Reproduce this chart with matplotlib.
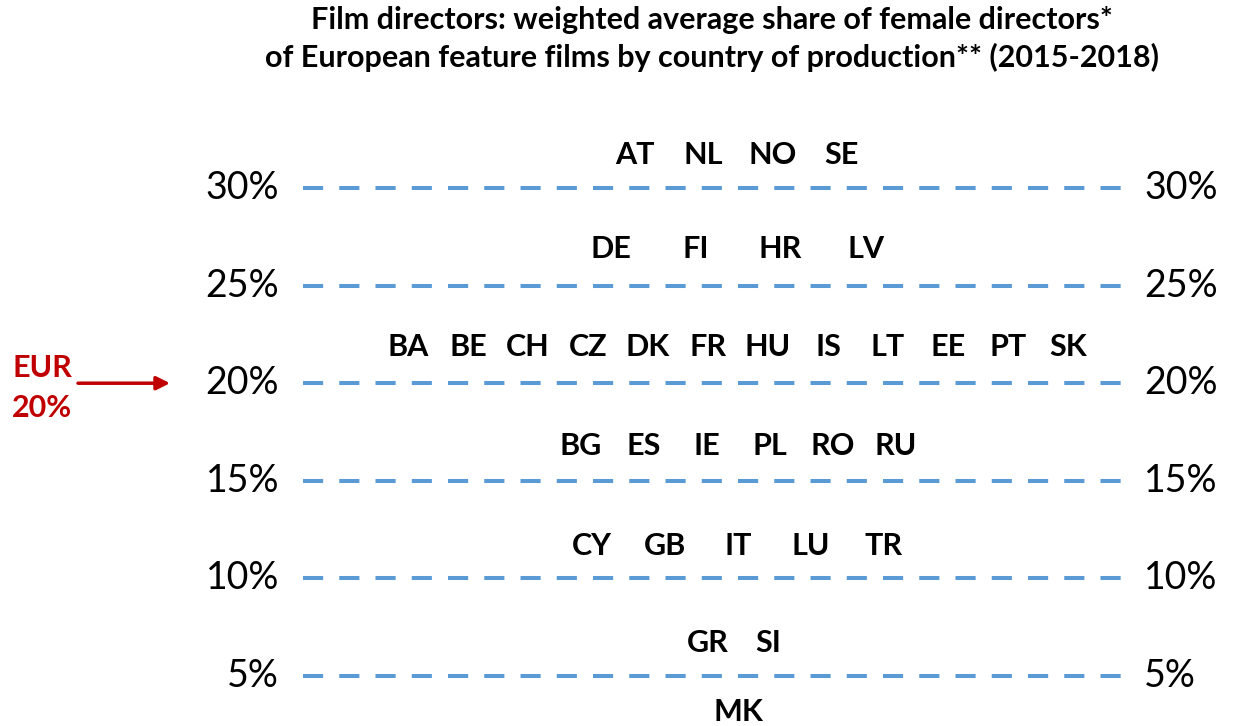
import matplotlib.pyplot as plt

plt.rcParams['font.family'] = ['Lato', 'DejaVu Sans']

# share levels (%) and the countries listed at each level
levels = [30, 25, 20, 15, 10, 5]
level_labels = ['30%', '25%', '20%', '15%', '10%', '5%']
countries = [
    ['AT', 'NL', 'NO', 'SE'],
    ['DE', 'FI', 'HR', 'LV'],
    ['BA', 'BE', 'CH', 'CZ', 'DK', 'FR', 'HU', 'IS', 'LT', 'EE', 'PT', 'SK'],
    ['BG', 'ES', 'IE', 'PL', 'RO', 'RU'],
    ['CY', 'GB', 'IT', 'LU', 'TR'],
    ['GR', 'SI'],
]
below_5 = ['MK']
eur_avg = 20

# layout (pixels across, percent up)
spacing = [69, 85, 60, 63, 73, 60]
label_off = [1.7, 1.9, 1.85, 1.8, 1.65, 1.7]
center_x = 738
x0, x1 = 303, 1122

fig = plt.figure(figsize=(12.33, 7.26), dpi=100)
ax = fig.add_axes([0, 0, 1, 1])
ax.set_xlim(0, 1233)
ax.set_ylim(2.44, 39.63)
ax.axis('off')

blue = '#5B9BD5'
red = '#C00000'

for lvl, lab, names, sp, off in zip(levels, level_labels, countries, spacing, label_off):
    ax.plot([x0, x1], [lvl, lvl], color=blue, lw=2.9, dashes=(5, 4),
            solid_capstyle='butt', dash_capstyle='butt')
    ax.text(279, lvl, lab, ha='right', va='center', fontsize=27)
    ax.text(1144, lvl, lab, ha='left', va='center', fontsize=27)
    n = len(names)
    for i, c in enumerate(names):
        x = center_x + (i - (n - 1) / 2) * sp
        ax.text(x, lvl + off, c, ha='center', va='center',
                fontsize=22, fontweight='bold')

for c in below_5:
    ax.text(center_x, levels[-1] - 1.85, c, ha='center', va='center',
            fontsize=22, fontweight='bold')

# EUR average marker
ax.text(42, eur_avg + 0.8, 'EUR', ha='center', va='center', color=red,
        fontsize=22, fontweight='bold')
ax.text(42, eur_avg - 1.25, '20%', ha='center', va='center', color=red,
        fontsize=22, fontweight='bold')
ax.annotate('', xy=(170, eur_avg), xytext=(78, eur_avg),
            arrowprops=dict(arrowstyle='-|>', color=red, lw=2.5,
                            mutation_scale=20, shrinkA=0, shrinkB=0))

ax.text(712, 38.6, 'Film directors: weighted average share of female directors*',
        ha='center', va='center', fontsize=22, fontweight='bold')
ax.text(712, 36.7, 'of European feature films by country of production** (2015-2018)',
        ha='center', va='center', fontsize=22, fontweight='bold')

fig.savefig('out.png', dpi=100)
